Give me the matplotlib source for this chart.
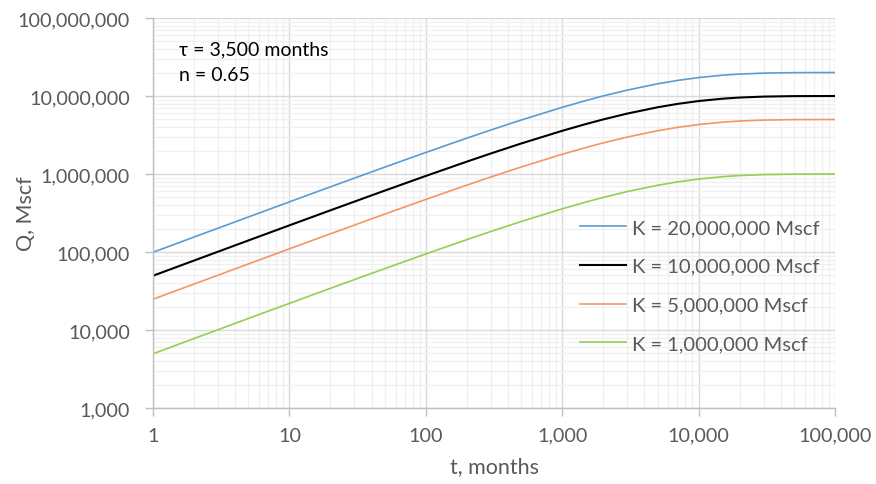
import matplotlib.pyplot as plt
from matplotlib.ticker import FuncFormatter, LogLocator, NullFormatter

# 累積生産量 Q(t) の読み取り値 (Mscf)
t_months = [1, 2, 5, 10, 20, 50, 100, 200, 300, 500, 1000, 1500, 2000, 3000,
            5000, 7000, 10000, 15000, 20000, 30000, 50000, 100000]
q_k20m = [99200, 155400, 281000, 439100, 684700, 1224800, 1888100, 2882000,
          3666700, 4918800, 7157000, 8763000, 10019000, 11906000, 14332000,
          15836000, 17235000, 18477000, 19103000, 19648000, 19928000, 19997000]
q_k10m = [49600, 77700, 140500, 219600, 342400, 612400, 944000, 1441000,
          1833400, 2459400, 3578600, 4381500, 5009600, 5953200, 7166100,
          7917800, 8617400, 9238600, 9551600, 9824200, 9964200, 9998600]
q_k5m = [24800, 38800, 70200, 109800, 171200, 306200, 472000, 720500,
         916700, 1229700, 1789300, 2190800, 2504800, 2976600, 3583000,
         3958900, 4308700, 4619300, 4775800, 4912100, 4982100, 4999300]
q_k1m = [4960, 7770, 14050, 21960, 34240, 61240, 94400, 144100,
         183300, 245900, 357900, 438200, 501000, 595300, 716600,
         791800, 861700, 923900, 955200, 982400, 996400, 999900]

labels = ["K = 20,000,000 Mscf", "K = 10,000,000 Mscf",
          "K = 5,000,000 Mscf", "K = 1,000,000 Mscf"]
colors = ["#5B9BD5", "#000000", "#F4965F", "#92D050"]
series = [q_k20m, q_k10m, q_k5m, q_k1m]

font = ["Lato", "DejaVu Sans"]
plt.rcParams["font.family"] = font
text_gray = "#595959"

fig = plt.figure(figsize=(8.76, 4.85), dpi=100)
ax = fig.add_axes([153 / 876, 1 - 409 / 485, (835 - 153) / 876, (409 - 19) / 485])

for q, c, lab in zip(series, colors, labels):
    ax.plot(t_months, q, color=c, lw=1.2 if c != "#000000" else 1.5, label=lab)

ax.set_xscale("log")
ax.set_yscale("log")
ax.set_xlim(1, 100000)
ax.set_ylim(1000, 100000000)

ax.xaxis.set_major_locator(LogLocator(base=10, numticks=10))
ax.yaxis.set_major_locator(LogLocator(base=10, numticks=10))
ax.xaxis.set_minor_locator(LogLocator(base=10, subs=range(2, 10), numticks=100))
ax.yaxis.set_minor_locator(LogLocator(base=10, subs=range(2, 10), numticks=100))
fmt = FuncFormatter(lambda v, p: f"{v:,.0f}")
ax.xaxis.set_major_formatter(fmt)
ax.yaxis.set_major_formatter(fmt)
ax.xaxis.set_minor_formatter(NullFormatter())
ax.yaxis.set_minor_formatter(NullFormatter())

ax.grid(True, which="major", color="#d9d9d9", lw=1.0)
ax.grid(True, which="minor", color="#f0f0f0", lw=1.0)
ax.set_axisbelow(True)

for side in ["top", "right"]:
    ax.spines[side].set_visible(False)
for side in ["left", "bottom"]:
    ax.spines[side].set_color("#bfbfbf")
    ax.spines[side].set_linewidth(1.0)

ax.tick_params(which="major", length=5.5, width=1.0, color="#bfbfbf",
               labelcolor=text_gray, labelsize=14.2)
ax.tick_params(axis="y", which="major", pad=11)
ax.tick_params(axis="x", which="major", pad=8)
ax.tick_params(which="minor", length=0)

ax.set_xlabel("t, months", fontsize=15.5, color=text_gray)
ax.set_ylabel("Q, Mscf", fontsize=15.5, color=text_gray)
ax.xaxis.set_label_coords(0.5, -0.123)
ax.yaxis.set_label_coords(-0.172, 0.5)

ax.text(0.038, 0.9205, "τ = 3,500 months", transform=ax.transAxes,
        fontsize=14, color="#000000", va="center", family=font)
ax.text(0.038, 0.856, "n = 0.65", transform=ax.transAxes,
        fontsize=14, color="#000000", va="center", family=font)

leg = ax.legend(loc="upper left", bbox_to_anchor=(0.626, 0.485), frameon=False,
                fontsize=14.5, handlelength=2.3, handletextpad=0.3,
                labelspacing=1.08, borderaxespad=0, borderpad=0)
for txt in leg.get_texts():
    txt.set_color(text_gray)

fig.savefig("out.png", dpi=100)
